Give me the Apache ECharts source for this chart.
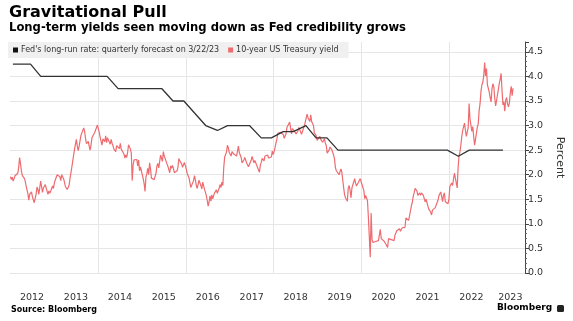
<!DOCTYPE html>
<html>
<head>
<meta charset="utf-8">
<script src="https://cdn.jsdelivr.net/npm/echarts@6/dist/echarts.min.js"></script>
<style>
  html, body { margin: 0; padding: 0; background: #fff; }
  #chart { width: 573px; height: 321px; }
</style>
</head>
<body>
<div id="chart"></div>
<script>
// 10-year US Treasury yield, weekly readings (four per month), percent
const yield2012 = [1.96,1.90,1.95,1.87, 1.92,1.98,2.00,1.97, 2.03,2.15,2.35,2.22, 2.07,1.98,1.96,1.93, 1.88,1.78,1.76,1.62, 1.48,1.60,1.63,1.65, 1.55,1.49,1.43,1.52, 1.60,1.75,1.70,1.60, 1.63,1.87,1.76,1.64, 1.73,1.73,1.80,1.73, 1.72,1.60,1.67,1.62, 1.63,1.72,1.77,1.72];
const yield2013 = [1.84,1.87,1.87,2.00, 2.02,2.00,1.96,1.88, 2.00,2.02,1.92,1.85, 1.76,1.72,1.70,1.68, 1.78,1.92,1.96,2.15, 2.17,2.14,2.52,2.49, 2.72,2.58,2.49,2.58, 2.60,2.80,2.82,2.78, 2.95,2.88,2.74,2.63, 2.65,2.68,2.58,2.50, 2.60,2.75,2.74,2.74, 2.86,2.87,2.90,3.01];
const yield2014 = [2.97,2.86,2.76,2.68, 2.60,2.73,2.75,2.67, 2.79,2.65,2.75,2.72, 2.72,2.62,2.72,2.64, 2.59,2.52,2.53,2.47, 2.59,2.60,2.60,2.53, 2.64,2.52,2.48,2.56, 2.42,2.34,2.40,2.35, 2.46,2.61,2.58,2.52, 2.44,1.88,2.20,2.30, 2.34,2.32,2.31,2.18, 2.30,2.08,2.16,2.20];
const yield2015 = [2.12,1.92,1.82,1.66, 1.95,2.02,2.13,2.00, 2.24,2.12,1.93,1.95, 1.90,1.90,1.92,2.03, 2.18,2.23,2.14,2.10, 2.40,2.39,2.27,2.47, 2.38,2.40,2.34,2.22, 2.17,2.20,2.04,2.18, 2.13,2.19,2.13,2.04, 2.00,2.02,2.08,2.16, 2.33,2.28,2.26,2.22, 2.15,2.20,2.25,2.27];
const yield2016 = [2.12,2.03,2.05,1.94, 1.84,1.74,1.75,1.76, 1.88,1.98,1.90,1.78, 1.72,1.76,1.89,1.83, 1.78,1.71,1.85,1.85, 1.70,1.64,1.57,1.47, 1.36,1.45,1.57,1.46, 1.59,1.51,1.58,1.63, 1.67,1.69,1.62,1.60, 1.73,1.80,1.74,1.85, 1.78,2.15,2.36,2.38, 2.46,2.60,2.55,2.45];
const yield2017 = [2.42,2.38,2.47,2.48, 2.42,2.45,2.42,2.38, 2.48,2.58,2.45,2.40, 2.35,2.24,2.25,2.30, 2.35,2.33,2.24,2.22, 2.16,2.16,2.14,2.30, 2.37,2.33,2.24,2.29, 2.25,2.19,2.19,2.17, 2.05,2.20,2.25,2.33, 2.36,2.28,2.38,2.41, 2.34,2.40,2.34,2.38, 2.36,2.36,2.48,2.41];
const yield2018 = [2.47,2.55,2.64,2.72, 2.84,2.85,2.88,2.86, 2.88,2.85,2.82,2.74, 2.78,2.83,2.96,2.95, 2.95,3.07,3.06,2.83, 2.94,2.92,2.89,2.85, 2.83,2.86,2.89,2.96, 2.95,2.87,2.82,2.86, 2.94,2.99,3.07,3.06, 3.23,3.16,3.19,3.08, 3.22,3.08,3.04,3.00, 2.85,2.89,2.79,2.70];
const yield2019 = [2.67,2.70,2.78,2.72, 2.69,2.66,2.65,2.73, 2.64,2.59,2.44,2.41, 2.50,2.56,2.57,2.51, 2.47,2.40,2.32,2.14, 2.08,2.09,2.05,2.00, 2.04,2.12,2.05,2.02, 1.73,1.59,1.53,1.50, 1.46,1.73,1.78,1.68, 1.53,1.73,1.77,1.72, 1.92,1.83,1.77,1.78, 1.84,1.82,1.92,1.88];
const yield2020 = [1.80,1.83,1.68,1.51, 1.58,1.59,1.47,1.13, 0.74,0.32,1.22,0.68, 0.62,0.65,0.62,0.64, 0.68,0.64,0.66,0.66, 0.89,0.70,0.68,0.66, 0.65,0.63,0.59,0.55, 0.52,0.70,0.66,0.72, 0.68,0.69,0.67,0.66, 0.77,0.75,0.86,0.87, 0.82,0.90,0.85,0.84, 0.92,0.90,0.94,0.93];
const yield2021 = [1.12,1.10,1.09,1.07, 1.17,1.20,1.37,1.44, 1.57,1.63,1.72,1.68, 1.67,1.58,1.56,1.63, 1.58,1.63,1.60,1.58, 1.55,1.45,1.50,1.48, 1.36,1.30,1.28,1.24, 1.18,1.28,1.26,1.31, 1.33,1.34,1.37,1.48, 1.57,1.60,1.65,1.56, 1.45,1.58,1.63,1.45, 1.43,1.48,1.41,1.51];
const yield2022 = [1.76,1.77,1.83,1.78, 1.92,2.03,1.93,1.97, 1.73,2.14,2.38,2.47, 2.60,2.78,2.90,2.89, 3.05,2.90,2.78,2.74, 2.96,3.45,3.13,3.01, 2.88,2.98,2.78,2.60, 2.62,2.84,2.97,3.04, 3.31,3.45,3.70,3.83, 3.88,4.02,4.28,4.01, 4.16,3.83,3.82,3.68, 3.57,3.48,3.75,3.85];
const yield2023 = [3.79,3.56,3.40,3.51, 3.53,3.74,3.86,3.95, 4.06,3.70,3.42,3.49, 3.29,3.52,3.57,3.44, 3.38,3.46,3.67,3.80, 3.61,3.76];

// Fed's longer-run rate median from each quarterly projection, percent
const fedDates = ['2012-01-25','2012-04-25','2012-06-20','2012-09-13','2012-12-12','2013-03-20','2013-06-19','2013-09-18','2013-12-18','2014-03-19','2014-06-18','2014-09-17','2014-12-17','2015-03-18','2015-06-17','2015-09-17','2015-12-16','2016-03-16','2016-06-15','2016-09-21','2016-12-14','2017-03-15','2017-06-14','2017-09-20','2017-12-13','2018-03-21','2018-06-13','2018-09-26','2018-12-19','2019-03-20','2019-06-19','2019-09-18','2019-12-11','2020-06-10','2020-09-16','2020-12-16','2021-03-17','2021-06-16','2021-09-22','2021-12-15','2022-03-16','2022-06-15','2022-09-21','2022-12-14','2023-03-22'];
const fedRate = [4.25,4.25,4.25,4.0,4.0,4.0,4.0,4.0,4.0,4.0,3.75,3.75,3.75,3.75,3.75,3.5,3.5,3.25,3.0,2.9,3.0,3.0,3.0,2.75,2.75,2.875,2.875,3.0,2.75,2.75,2.5,2.5,2.5,2.5,2.5,2.5,2.5,2.5,2.5,2.5,2.375,2.5,2.5,2.5,2.5];

const yearLabels = ['2012','2013','2014','2015','2016','2017','2018','2019','2020','2021','2022','2023'];

const yieldByYear = [yield2012, yield2013, yield2014, yield2015, yield2016, yield2017,
                     yield2018, yield2019, yield2020, yield2021, yield2022, yield2023];

// x values are decimal years
function decimalYear(str) {
  const [y, m, d] = str.split('-').map(Number);
  const start = Date.UTC(y, 0, 1), end = Date.UTC(y + 1, 0, 1);
  return y + (Date.UTC(y, m - 1, d) - start) / (end - start);
}

const yieldSeries = [];
yieldByYear.forEach((arr, yi) => {
  const year = 2012 + yi;
  arr.forEach((v, i) => {
    const month = Math.floor(i / 4), week = i % 4;
    yieldSeries.push([year + (month + (week + 0.5) / 4) / 12, v]);
  });
});
const fedSeries = fedDates.map((d, i) => [decimalYear(d), fedRate[i]]);

const X_MIN = 2012, X_MAX = 2023.72;
const FONT = 'DejaVu Sans';

const chart = echarts.init(document.getElementById('chart'), null, { renderer: 'canvas' });
chart.setOption({
  animation: false,
  backgroundColor: '#ffffff',
  textStyle: { fontFamily: FONT },
  title: [
    {
      text: 'Gravitational Pull',
      subtext: 'Long-term yields seen moving down as Fed credibility grows',
      left: 7, top: 3, itemGap: 1, padding: [2, 2],
      textStyle: { fontFamily: FONT, fontSize: 16, fontWeight: 'bold', color: '#000' },
      subtextStyle: { fontFamily: FONT, fontSize: 11.6, fontWeight: 'bold', color: '#000' }
    },
    {
      text: 'Source: Bloomberg',
      left: 11, top: 306, padding: 0,
      textStyle: { fontFamily: FONT, fontSize: 8, fontWeight: 'bold', color: '#000' }
    },
    {
      text: 'Bloomberg',
      left: 497, top: 303, padding: 0,
      textStyle: { fontFamily: FONT, fontSize: 9, fontWeight: 'bold', color: '#000' }
    }
  ],
  graphic: [
    { type: 'rect', left: 557, top: 305, shape: { width: 7, height: 7, r: 1.5 }, style: { fill: '#222' } }
  ],
  legend: {
    left: 8, top: 42,
    padding: [4, 10, 4, 5],
    backgroundColor: '#f0f0f0',
    itemWidth: 5, itemHeight: 5, itemGap: 9,
    icon: 'rect',
    textStyle: { fontFamily: FONT, fontSize: 8, color: '#333', padding: [0, 0, 0, -2] },
    data: ["Fed's long-run rate: quarterly forecast on 3/22/23", '10-year US Treasury yield']
  },
  grid: { left: 10, right: 44, top: 42, bottom: 48 },
  xAxis: [
    {
      type: 'value', min: X_MIN, max: X_MAX, interval: 2,
      axisLine: { show: false }, axisTick: { show: false }, axisLabel: { show: false },
      splitLine: { show: true, showMinLine: false, showMaxLine: false, lineStyle: { color: '#e6e6e6', width: 1 } }
    },
    {
      type: 'value', min: X_MIN, max: X_MAX, interval: 1, position: 'bottom',
      axisLine: { show: false }, axisTick: { show: false }, splitLine: { show: false },
      axisLabel: {
        showMaxLabel: false, showMinLabel: true, margin: 20,
        formatter: v => {
          const label = yearLabels[Math.round(v) - 2012];
          if (!label) return '';
          return Math.round(v) === 2023 ? '{last|' + label + '}' : '{yr|' + label + '}';
        },
        rich: {
          yr: { fontFamily: FONT, fontSize: 9.5, color: '#333', padding: [0, 0, 0, 44] },
          last: { fontFamily: FONT, fontSize: 9.5, color: '#333', padding: [0, 0, 0, 34] }
        }
      }
    }
  ],
  yAxis: {
    type: 'value', position: 'right', min: 0, max: 4.7, interval: 0.5,
    name: 'Percent', nameLocation: 'middle', nameRotate: -90, nameGap: 29,
    nameTextStyle: { fontFamily: FONT, fontSize: 11, color: '#333' },
    axisLine: { show: true, lineStyle: { color: '#444', width: 1 } },
    axisTick: { show: true, length: 4, lineStyle: { color: '#444' } },
    minorTick: { show: true, splitNumber: 5, length: 2, lineStyle: { color: '#666' } },
    splitLine: { show: true, showMaxLine: false, lineStyle: { color: '#e6e6e6', width: 1 } },
    axisLabel: {
      showMaxLabel: false, margin: 3,
      fontFamily: FONT, fontSize: 9.5, color: '#333',
      formatter: v => v.toFixed(1)
    }
  },
  series: [
    {
      name: '10-year US Treasury yield', type: 'line', xAxisIndex: 0,
      data: yieldSeries, showSymbol: false, symbol: 'none',
      lineStyle: { color: '#ee6b6f', width: 1.2 },
      itemStyle: { color: '#ee6b6f' }
    },
    {
      name: "Fed's long-run rate: quarterly forecast on 3/22/23", type: 'line', xAxisIndex: 0,
      data: fedSeries, showSymbol: false, symbol: 'none',
      lineStyle: { color: '#333', width: 1.3 },
      itemStyle: { color: '#111' }
    }
  ]
});
</script>
</body>
</html>
